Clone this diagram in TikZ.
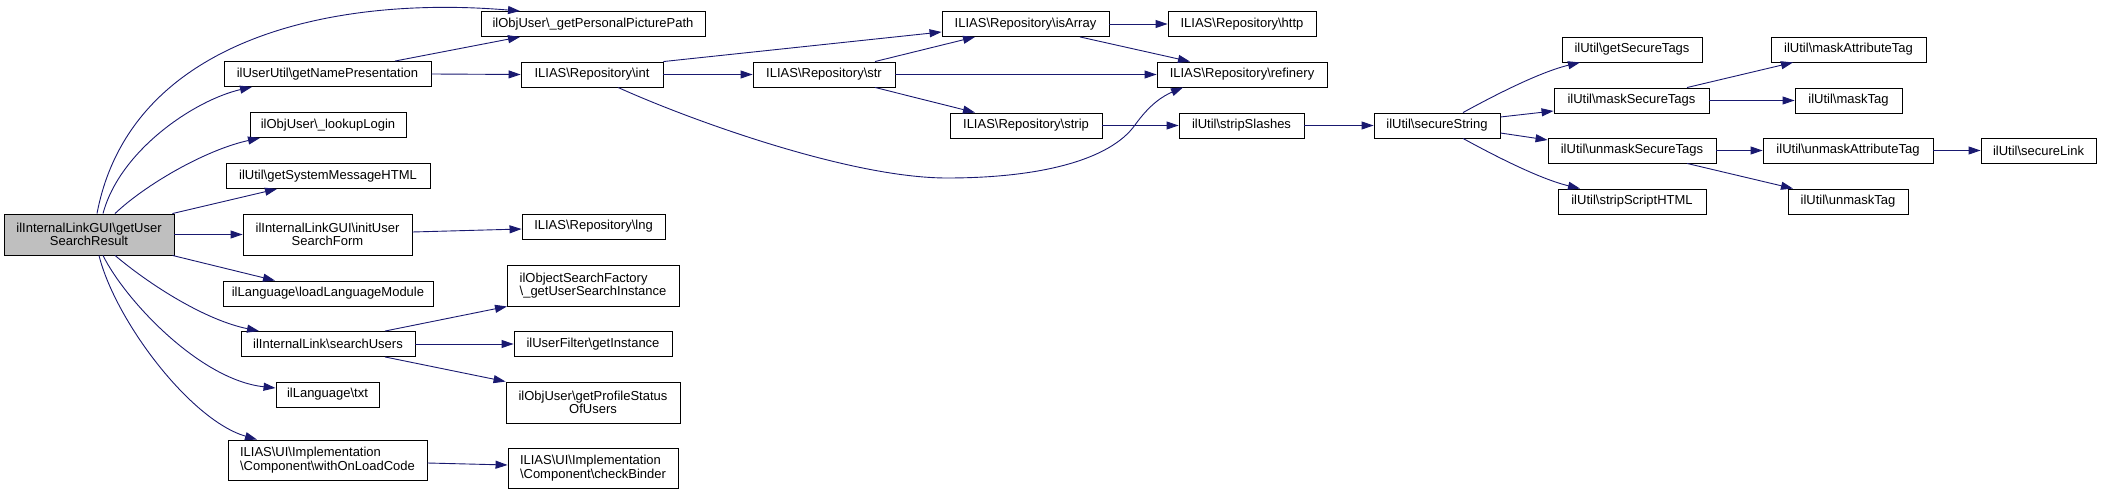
\documentclass[tikz,border=0pt]{standalone}
\usepackage{fontspec}
\setmainfont{Liberation Sans}
\usetikzlibrary{arrows.meta}
\definecolor{edgeblue}{RGB}{25,25,112}
\definecolor{rootgrey}{RGB}{191,191,191}
\newcommand{\bsl}{\textbackslash}

\begin{document}
\begin{tikzpicture}[x=1pt,y=-1pt,
		fn/.style={draw=black,line width=0.9pt,fill=white,minimum height=25pt,inner sep=2pt,font=\fontsize{13}{13.3}\selectfont},
		fntwo/.style={fn,minimum height=41pt},
		call/.style={draw=edgeblue,line width=0.9pt,-{Triangle[length=12pt,width=8pt]}}]
	\useasboundingbox (0,0) rectangle (2101,494);
	\node[fntwo,fill=rootgrey,minimum width=170pt,align=center] (root) at (89,234.5) {ilInternalLinkGUI\bsl getUser\\SearchResult};
	\node[fn,minimum width=224pt] (gpp) at (593,24) {ilObjUser\bsl\_getPersonalPicturePath};
	\node[fn,minimum width=207pt] (gnp) at (327.5,74) {ilUserUtil\bsl getNamePresentation};
	\node[fn,minimum width=142pt] (int) at (592,74.5) {ILIAS\bsl Repository\bsl int};
	\node[fn,minimum width=156pt] (lkl) at (328,125) {ilObjUser\bsl\_lookupLogin};
	\node[fn,minimum width=204pt] (gsm) at (328,176) {ilUtil\bsl getSystemMessageHTML};
	\node[fntwo,minimum width=169pt,align=center] (iusf) at (327.5,234.5) {ilInternalLinkGUI\bsl initUser\\SearchForm};
	\node[fn,minimum width=143pt] (lng) at (593.5,226.5) {ILIAS\bsl Repository\bsl lng};
	\node[fn,minimum width=210pt] (llm) at (328,293.5) {ilLanguage\bsl loadLanguageModule};
	\node[fn,minimum width=174pt] (su) at (328,344) {ilInternalLink\bsl searchUsers};
	\node[fn,minimum width=103pt] (txt) at (327.5,394.5) {ilLanguage\bsl txt};
	\node[fntwo,minimum height=40pt,minimum width=199pt,align=left] (wolc) at (327.5,460) {ILIAS\bsl UI\bsl Implementation\\\bsl Component\bsl withOnLoadCode};
	\node[fntwo,minimum width=172pt,align=left] (gusi) at (593,285.5) {ilObjectSearchFactory\\\bsl\_getUserSearchInstance};
	\node[fn,minimum width=158pt] (gi) at (593,344) {ilUserFilter\bsl getInstance};
	\node[fntwo,minimum width=174pt,align=center] (gpsu) at (593,402.5) {ilObjUser\bsl getProfileStatus\\OfUsers};
	\node[fntwo,minimum height=40pt,minimum width=170pt,align=left] (cb) at (593,468) {ILIAS\bsl UI\bsl Implementation\\\bsl Component\bsl checkBinder};
	\node[fn,minimum width=167pt] (isarr) at (1025.5,24) {ILIAS\bsl Repository\bsl isArray};
	\node[fn,minimum width=148pt] (http) at (1242,24) {ILIAS\bsl Repository\bsl http};
	\node[fn,minimum width=142pt] (str) at (824,74.5) {ILIAS\bsl Repository\bsl str};
	\node[fn,minimum width=170pt] (refinery) at (1242,74.5) {ILIAS\bsl Repository\bsl refinery};
	\node[fn,minimum width=152pt] (strip) at (1026,125.5) {ILIAS\bsl Repository\bsl strip};
	\node[fn,minimum width=125pt] (slashes) at (1241.5,125.5) {ilUtil\bsl stripSlashes};
	\node[fn,minimum width=126pt] (secstr) at (1437,125.5) {ilUtil\bsl secureString};
	\node[fn,minimum width=140pt] (gettags) at (1632,49.5) {ilUtil\bsl getSecureTags};
	\node[fn,minimum width=155pt] (masktags) at (1631.5,100.5) {ilUtil\bsl maskSecureTags};
	\node[fn,minimum width=168pt] (unmasktags) at (1632,150.5) {ilUtil\bsl unmaskSecureTags};
	\node[fn,minimum width=148pt] (striphtml) at (1632,201.5) {ilUtil\bsl stripScriptHTML};
	\node[fn,minimum width=155pt] (maskattr) at (1848.5,49.5) {ilUtil\bsl maskAttributeTag};
	\node[fn,minimum width=107pt] (masktag) at (1848.5,100.5) {ilUtil\bsl maskTag};
	\node[fn,minimum width=170pt] (unmaskattr) at (1848,150.5) {ilUtil\bsl unmaskAttributeTag};
	\node[fn,minimum width=120pt] (unmasktag) at (1848,201.5) {ilUtil\bsl unmaskTag};
	\node[fn,minimum width=115pt] (seclink) at (2038.5,150.5) {ilUtil\bsl secureLink};
	\draw[call] ([xshift=8pt]root.north) .. controls (130,40) and (330,-5) .. ([xshift=-73pt]gpp.north);
	\draw[call] ([xshift=14pt]root.north) .. controls (120,150) and (195,100) .. ([xshift=-75.5pt]gnp.south);
	\draw[call] ([xshift=26pt]root.north) .. controls (145,185) and (205,150) .. ([xshift=-68pt]lkl.south);
	\draw[call] ([xshift=-2pt]root.north east) -- ([xshift=-51pt]gsm.south);
	\draw[call] (root.east) -- (iusf.west);
	\draw[call] ([xshift=-2pt]root.south east) -- ([xshift=-53pt]llm.north);
	\draw[call] ([xshift=26pt]root.south) .. controls (150,285) and (205,320) .. ([xshift=-69pt]su.north);
	\draw[call] ([xshift=14pt]root.south) .. controls (125,300) and (200,380) .. ([yshift=6.5pt]txt.west);
	\draw[call] ([xshift=10pt]root.south) .. controls (115,320) and (190,420) .. ([xshift=-70.5pt]wolc.north);
	\draw[call] ([xshift=67.5pt]gnp.north) -- ([xshift=-73pt]gpp.south);
	\draw[call] (gnp.east) -- (int.west);
	\draw[call] (int.north east) -- ([yshift=-8pt]isarr.west);
	\draw[call] (int.east) -- (str.west);
	\draw[call] ([xshift=26pt]int.south) .. controls (690,120) and (850,178) .. (947,178) .. controls (1040,178) and (1110,160) .. (1135,125) .. controls (1150,104) and (1163,96) .. ([xshift=-59pt]refinery.south);
	\draw[call] ([xshift=51pt]str.north) -- ([xshift=-50.5pt]isarr.south);
	\draw[call] (str.east) -- (refinery.west);
	\draw[call] ([xshift=51pt]str.south) -- ([xshift=-51pt]strip.north);
	\draw[call] (isarr.east) -- (http.west);
	\draw[call] ([xshift=54.5pt]isarr.south) -- ([xshift=-52pt]refinery.north);
	\draw[call] (strip.east) -- (slashes.west);
	\draw[call] (slashes.east) -- (secstr.west);
	\draw[call] ([xshift=26pt]secstr.north) .. controls (1495,95) and (1540,72) .. ([xshift=-52pt]gettags.south);
	\draw[call] ([yshift=8.5pt]secstr.east) -- ([yshift=-10.5pt]masktags.west);
	\draw[call] ([yshift=-7.5pt]secstr.east) -- ([yshift=10.5pt]unmasktags.west);
	\draw[call] ([xshift=26pt]secstr.south) .. controls (1495,156) and (1540,179) .. ([xshift=-52pt]striphtml.north);
	\draw[call] ([xshift=55.5pt]masktags.north) -- ([xshift=-55.5pt]maskattr.south);
	\draw[call] (masktags.east) -- (masktag.west);
	\draw[call] (unmasktags.east) -- (unmaskattr.west);
	\draw[call] ([xshift=55pt]unmasktags.south) -- ([xshift=-55pt]unmasktag.north);
	\draw[call] (unmaskattr.east) -- (seclink.west);
	\draw[call] ([yshift=2.5pt]iusf.east) -- ([yshift=-2.5pt]lng.west);
	\draw[call] ([xshift=57pt]su.north) -- ([xshift=-86pt]gusi.south);
	\draw[call] (su.east) -- (gi.west);
	\draw[call] ([xshift=57pt]su.south) -- (gpsu.north west);
	\draw[call] ([yshift=-3pt]wolc.east) -- ([yshift=3pt]cb.west);
\end{tikzpicture}
\end{document}
